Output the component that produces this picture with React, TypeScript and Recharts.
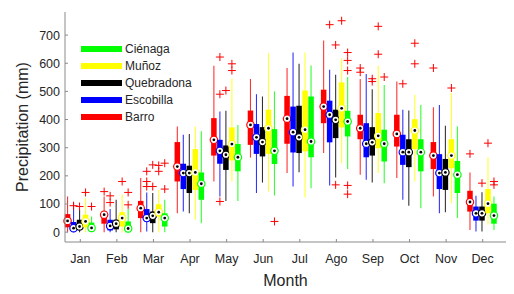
import React from 'react';
import { ComposedChart, Bar, XAxis, YAxis, Legend } from 'recharts';

const months = ['Jan', 'Feb', 'Mar', 'Apr', 'May', 'Jun', 'Jul', 'Ago', 'Sep', 'Oct', 'Nov', 'Dec'];
const seriesNames = ['Barro', 'Escobilla', 'Quebradona', 'Muñoz', 'Ciénaga'];
const seriesColors = ['#ff0000', '#0000ff', '#000000', '#ffff00', '#00ff00'];
const yTicks = [0, 100, 200, 300, 400, 500, 600, 700];

// [min, q1, median, q3, max] for each month
const barro = [
  [0, 17, 40, 64, 127], [0, 30, 62, 73, 127], [0, 50, 85, 111, 192], [67, 180, 233, 320, 375],
  [180, 272, 328, 405, 591], [265, 310, 381, 432, 544], [210, 314, 403, 484, 583], [281, 387, 446, 506, 681],
  [204, 330, 369, 417, 544], [192, 304, 349, 417, 535], [127, 224, 272, 320, 444], [8, 73, 107, 147, 212],
];
const escobilla = [
  [0, 5, 14, 36, 105], [0, 6, 22, 44, 82], [2, 38, 50, 82, 141], [73, 153, 210, 243, 346],
  [127, 243, 289, 328, 429], [139, 278, 337, 384, 490], [162, 283, 355, 446, 638], [166, 319, 417, 467, 577],
  [186, 266, 314, 387, 562], [115, 239, 284, 346, 435], [67, 153, 210, 277, 452], [2, 41, 67, 91, 129],
];
const quebradona = [
  [0, 8, 20, 44, 79], [0, 10, 30, 44, 115], [0, 32, 58, 73, 139], [67, 139, 210, 236, 349],
  [111, 221, 275, 308, 431], [176, 269, 320, 373, 482], [213, 281, 337, 449, 598], [194, 334, 399, 435, 559],
  [176, 272, 319, 373, 508], [94, 231, 284, 330, 432], [71, 150, 212, 260, 378], [2, 41, 67, 91, 142],
];
const munoz = [
  [0, 17, 38, 62, 120], [0, 20, 50, 71, 135], [0, 56, 71, 99, 150], [44, 150, 212, 295, 375],
  [180, 255, 313, 372, 545], [144, 278, 369, 435, 636], [123, 287, 364, 503, 638], [245, 372, 440, 532, 618],
  [210, 298, 342, 423, 591], [180, 295, 361, 401, 488], [103, 227, 272, 330, 494], [26, 67, 101, 153, 266],
];
const cienaga = [
  [0, 2, 15, 34, 56], [0, 0, 13, 38, 82], [0, 20, 50, 67, 115], [32, 115, 172, 212, 358],
  [111, 216, 266, 313, 381], [130, 242, 289, 366, 500], [156, 266, 322, 482, 592], [224, 340, 393, 431, 551],
  [174, 251, 314, 364, 523], [85, 216, 284, 330, 452], [50, 139, 204, 253, 375], [8, 30, 59, 101, 127],
];

// outliers per month
const barroOut = [[], [144], [], [], [], [], [], [], [583, 568], [], [583], [278]];
const escobillaOut = [[94], [129, 105], [216, 180, 162], [], [622, 490, 109], [], [], [737], [], [527], [], []];
const quebradonaOut = [[91], [], [239, 162], [], [503], [], [], [665, 168], [545, 535], [], [], [174]];
const munozOut = [[141], [180], [237, 216], [], [598, 574], [], [], [751], [731, 632], [671, 598], [512], [316]];
const cienagaOut = [[91], [141, 97], [245, 153], [], [], [38], [], [638, 610, 574, 166, 135], [551], [], [], [180, 168]];

const stats = [barro, escobilla, quebradona, munoz, cienaga];
const outliers = [barroOut, escobillaOut, quebradonaOut, munozOut, cienagaOut];

const data = months.map((m, i) => {
  const row: any = { month: m };
  seriesNames.forEach((s, k) => {
    row[s] = stats[k][i];
    row[s + '_out'] = outliers[k][i];
  });
  return row;
});

const rangeOf = (name: string) => (d: any) => {
  const b = d[name];
  const o = d[name + '_out'];
  return [Math.min(b[0], ...o), Math.max(b[4], ...o)];
};

const axisColor = '#8a8a8a';
const textColor = '#262626';

const boxShape = (name: string, color: string) => (props: any) => {
  const { x, y, width, height, payload } = props;
  const [lo, hi] = rangeOf(name)(payload);
  const [mn, q1, med, q3, mx] = payload[name];
  const py = (v: number) => y + (height * (hi - v)) / (hi - lo);
  const cx = x + width / 2;
  const bw = width * 0.92;
  return (
    <g>
      <line x1={cx} x2={cx} y1={py(mx)} y2={py(mn)} stroke={color} strokeWidth={1.1} strokeOpacity={0.8} />
      <rect x={cx - bw / 2} y={py(q3)} width={bw} height={py(q1) - py(q3)} fill={color} />
      {payload[name + '_out'].map((v: number, i: number) => (
        <path key={i} d={`M${cx - 4},${py(v)}h8M${cx},${py(v) - 4}v8`} stroke="#ff0000" strokeWidth={1} />
      ))}
      <circle cx={cx} cy={py(med)} r={3.7} fill="#fff" stroke={color} strokeWidth={1.2} />
      <circle cx={cx} cy={py(med)} r={1.4} fill="#000" />
    </g>
  );
};

const renderLegend = () => (
  <div style={{ fontFamily: '"Liberation Sans", Arial, sans-serif', fontSize: 12, color: textColor }}>
    {[4, 3, 2, 1, 0].map((k) => (
      <div key={k} style={{ display: 'flex', alignItems: 'center', height: 17 }}>
        <span style={{ display: 'inline-block', width: 41, height: 6, background: seriesColors[k], marginRight: 3 }} />
        <span>{seriesNames[k]}</span>
      </div>
    ))}
  </div>
);

export default function App() {
  return (
    <div style={{ position: 'absolute', left: 0, top: 0, width: 514, height: 294, background: '#fff', fontFamily: '"Liberation Sans", Arial, sans-serif' }}>
      <ComposedChart
        width={514}
        height={294}
        data={data}
        margin={{ top: 12, right: 8, bottom: 2, left: 5 }}
        barCategoryGap="7%"
        barGap={0}
      >
        <XAxis
          dataKey="month"
          height={50}
          padding={{ left: -3, right: 5 }}
          tickSize={-3}
          tickMargin={15}
          interval={0}
          tick={{ fill: textColor, fontSize: 12.5 }}
          axisLine={{ stroke: axisColor }}
          tickLine={{ stroke: axisColor }}
          label={{ value: 'Month', position: 'insideBottom', offset: 6, fill: textColor, fontSize: 16 }}
        />
        <XAxis
          xAxisId="top"
          dataKey="month"
          orientation="top"
          height={0}
          padding={{ left: -3, right: 5 }}
          tickSize={-3}
          interval={0}
          tick={false}
          axisLine={{ stroke: axisColor }}
          tickLine={{ stroke: axisColor }}
        />
        <YAxis
          width={60}
          domain={[-35, 782]}
          ticks={yTicks}
          allowDataOverflow
          interval={0}
          tickSize={-3}
          tickMargin={8}
          tick={{ fill: textColor, fontSize: 12.5 }}
          axisLine={{ stroke: axisColor }}
          tickLine={{ stroke: axisColor }}
          label={{ value: 'Precipitation (mm)', angle: -90, position: 'center', dx: -13, fill: textColor, fontSize: 16 }}
        />
        <YAxis
          yAxisId="right"
          orientation="right"
          width={0}
          domain={[-35, 782]}
          ticks={yTicks}
          allowDataOverflow
          interval={0}
          tickSize={-3}
          tick={false}
          axisLine={{ stroke: axisColor, strokeWidth: 1.5 }}
          tickLine={{ stroke: axisColor }}
        />
        <Legend
          layout="vertical"
          align="center"
          verticalAlign="middle"
          wrapperStyle={{ left: 81, top: 40.5, width: 'auto', height: 'auto' }}
          content={renderLegend}
        />
        {seriesNames.map((s, k) => (
          <Bar
            key={s}
            dataKey={rangeOf(s)}
            name={s}
            fill={seriesColors[k]}
            shape={boxShape(s, seriesColors[k])}
            isAnimationActive={false}
          />
        ))}
      </ComposedChart>
    </div>
  );
}
